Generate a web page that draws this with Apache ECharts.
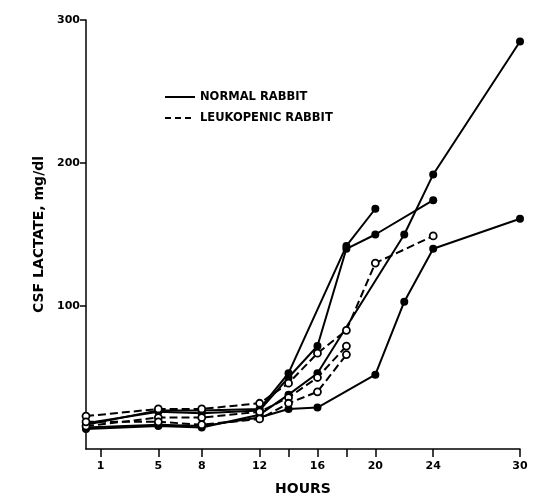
<!DOCTYPE html>
<html>
<head>
<meta charset="utf-8">
<script src="https://cdn.jsdelivr.net/npm/echarts@6/dist/echarts.min.js"></script>
<style>
  html, body { margin: 0; padding: 0; background: #fff; }
  #main { width: 535px; height: 501px; }
</style>
</head>
<body>
<div id="main"></div>
<script>
// sampling hours per animal
var hoursS1 = [0, 5, 8, 12, 14, 16, 20, 22, 24, 30];
var hoursS2 = [0, 5, 8, 12, 14, 16, 22, 24, 30];
var hoursS3 = [0, 5, 8, 12, 14, 18, 20];
var hoursS4 = [0, 5, 8, 12, 14, 16, 18, 20, 24];
var hoursD1 = [0, 5, 8, 12, 14, 16, 18, 20, 24];
var hoursD2 = [0, 5, 8, 12, 14, 16, 18];
var hoursD3 = [0, 5, 8, 12, 14, 16, 18];

// CSF lactate, mg/dl
var normal1 = [15, 17, 16, 22, 28, 29, 52, 103, 140, 161];
var normal2 = [14, 16, 15, 24, 38, 53, 150, 192, 285];
var normal3 = [17, 27, 27, 28, 53, 142, 168];
var normal4 = [18, 26, 25, 27, 50, 72, 140, 150, 174];
var leuko1 = [23, 28, 28, 32, 46, 67, 83, 130, 149];
var leuko2 = [16, 22, 22, 26, 36, 50, 72];
var leuko3 = [19, 19, 17, 21, 32, 40, 66];

var xTicks = [1, 5, 8, 12, 14, 16, 18, 20, 24, 30];
var xLabels = [1, 5, 8, 12, 16, 20, 24, 30];
var yTicks = [100, 200, 300];

function pairs(h, v) {
    return h.map(function (x, i) { return [x, v[i]]; });
}

function normal(h, v) {
    return {
        type: 'line',
        data: pairs(h, v),
        symbol: 'circle',
        symbolSize: 8,
        itemStyle: { color: '#000' },
        lineStyle: { color: '#000', width: 2 },
        animation: false
    };
}

function leuko(h, v) {
    return {
        type: 'line',
        data: pairs(h, v),
        symbol: 'circle',
        symbolSize: 7,
        itemStyle: { color: '#fff', borderColor: '#000', borderWidth: 1.8 },
        lineStyle: { color: '#000', width: 2, type: [8, 4] },
        animation: false,
        z: 3
    };
}

var font = 'DejaVu Sans';
var dom = document.getElementById('main');
var myChart = echarts.init(dom);
var option = {
    backgroundColor: '#fff',
    grid: { left: 86, right: 15, top: 20, bottom: 50 },
    xAxis: {
        type: 'value',
        min: 0,
        max: 30,
        interval: 1,
        name: 'HOURS',
        nameLocation: 'middle',
        nameGap: 33,
        nameTextStyle: { fontFamily: font, fontWeight: 'bold', fontSize: 14, color: '#000' },
        splitLine: { show: false },
        axisLine: { lineStyle: { color: '#000', width: 1.5 } },
        axisTick: { customValues: xTicks, length: 8, lineStyle: { color: '#000', width: 1.5 } },
        axisLabel: { customValues: xLabels, margin: 12, fontFamily: font, fontWeight: 'bold', fontSize: 11, color: '#000' }
    },
    yAxis: {
        type: 'value',
        min: 0,
        max: 300,
        interval: 100,
        name: 'CSF LACTATE, mg/dl',
        nameLocation: 'middle',
        nameGap: 40,
        nameRotate: 90,
        nameTextStyle: { fontFamily: font, fontWeight: 'bold', fontSize: 14, color: '#000' },
        splitLine: { show: false },
        axisLine: { show: true, lineStyle: { color: '#000', width: 1.5 } },
        axisTick: { show: true, customValues: yTicks, length: 6, lineStyle: { color: '#000', width: 1.5 } },
        axisLabel: { customValues: yTicks, margin: 6, fontFamily: font, fontWeight: 'bold', fontSize: 11, color: '#000' }
    },
    graphic: [
        { type: 'line', shape: { x1: 165, y1: 97, x2: 195, y2: 97 }, style: { stroke: '#000', lineWidth: 2 } },
        { type: 'text', x: 200, y: 97, style: { text: 'NORMAL RABBIT', font: 'bold 11.5px "DejaVu Sans"', fill: '#000', verticalAlign: 'middle' } },
        { type: 'line', shape: { x1: 165, y1: 118, x2: 195, y2: 118 }, style: { stroke: '#000', lineWidth: 2, lineDash: [6, 4] } },
        { type: 'text', x: 200, y: 118, style: { text: 'LEUKOPENIC RABBIT', font: 'bold 11.5px "DejaVu Sans"', fill: '#000', verticalAlign: 'middle' } }
    ],
    series: [
        normal(hoursS1, normal1),
        normal(hoursS2, normal2),
        normal(hoursS3, normal3),
        normal(hoursS4, normal4),
        leuko(hoursD1, leuko1),
        leuko(hoursD2, leuko2),
        leuko(hoursD3, leuko3)
    ]
};
myChart.setOption(option, true);

window.onresize = function () {
    myChart.resize();
};
</script>
</body>
</html>
